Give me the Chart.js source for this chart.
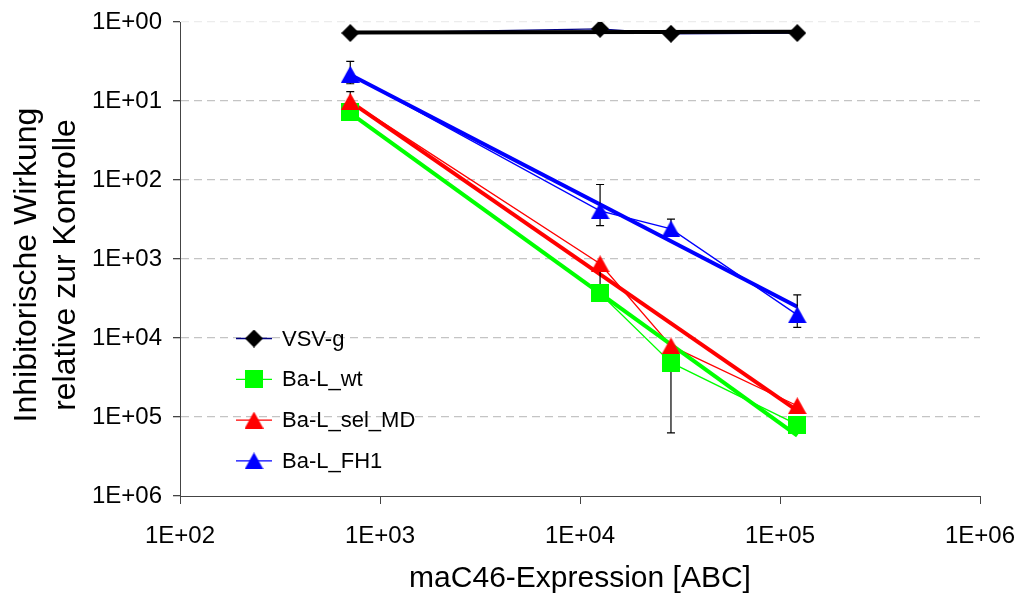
<!DOCTYPE html>
<html>
<head>
<meta charset="utf-8">
<title>Inhibitorische Wirkung vs. maC46-Expression</title>
<script src="https://cdn.jsdelivr.net/npm/chart.js@4.4.1/dist/chart.umd.min.js"></script>
<style>
  html, body { margin: 0; padding: 0; background: #fff; }
  #chart { display: block; }
</style>
</head>
<body>
<canvas id="chart" width="1018" height="594"></canvas>
<script>
// maC46-Expression der Zielzellen [ABC]
const expression = [710, 12600, 28500, 122000];

// inhibitorische Wirkung relativ zur Kontrolle
const vsvG     = [1.38, 1.22, 1.41, 1.38];
const baLWt    = [13.9, 2730, 20500, 124700];
const baLSelMD = [10.1, 1150, 12600, 72100];
const baLFH1   = [4.6, 246, 416, 5100];

// Fehlerbalken (+/-), 0 = keiner
const errVsvG     = [0, 0, 0, 0];
const errBaLWt    = [0, 0, 138000, 0];
const errBaLSelMD = [2.5, 1500, 0, 0];
const errBaLFH1   = [1.45, 132, 103, 2250];

// Potenz-Trendlinien: Wert am ersten und letzten Messpunkt
const trendVsvG     = [1.36, 1.33];
const trendBaLWt    = [14.2, 171700];
const trendBaLSelMD = [10.2, 82800];
const trendBaLFH1   = [4.66, 4030];

const seriesNames = ['VSV-g', 'Ba-L_wt', 'Ba-L_sel_MD', 'Ba-L_FH1'];
const yTitleLines = ['Inhibitorische Wirkung', 'relative zur Kontrolle'];

const xTicks = [1e2, 1e3, 1e4, 1e5, 1e6];
const xTickLabels = ['1E+02', '1E+03', '1E+04', '1E+05', '1E+06'];
const yTicks = [1, 1e1, 1e2, 1e3, 1e4, 1e5, 1e6];
const yTickLabels = ['1E+00', '1E+01', '1E+02', '1E+03', '1E+04', '1E+05', '1E+06'];

const FONT = "'Liberation Sans', Arial, Helvetica, sans-serif";
const AXIS = '#444444';

// Marker als kleine Canvas-Grafik, damit die Form mittig auf dem Punkt sitzt
function makeMarker(shape, color) {
  const c = document.createElement('canvas');
  if (shape === 'triangle') { c.width = 19; c.height = 17; }
  else { c.width = 18; c.height = 18; }
  const g = c.getContext('2d');
  g.fillStyle = color;
  g.beginPath();
  if (shape === 'diamond') {
    g.moveTo(9, 0); g.lineTo(18, 9); g.lineTo(9, 18); g.lineTo(0, 9);
  } else if (shape === 'square') {
    g.rect(0, 0, 18, 18);
  } else {
    g.moveTo(9.5, 0); g.lineTo(19, 17); g.lineTo(0, 17);
  }
  g.closePath();
  g.fill();
  return c;
}

const series = [
  { name: seriesNames[0], values: vsvG, errors: errVsvG, trend: trendVsvG,
    line: '#000080', trendColor: '#000000', marker: makeMarker('diamond', '#000000') },
  { name: seriesNames[1], values: baLWt, errors: errBaLWt, trend: trendBaLWt,
    line: '#00ff00', trendColor: '#00ff00', marker: makeMarker('square', '#00ff00') },
  { name: seriesNames[2], values: baLSelMD, errors: errBaLSelMD, trend: trendBaLSelMD,
    line: '#ff0000', trendColor: '#ff0000', marker: makeMarker('triangle', '#ff0000') },
  { name: seriesNames[3], values: baLFH1, errors: errBaLFH1, trend: trendBaLFH1,
    line: '#0000ff', trendColor: '#0000ff', marker: makeMarker('triangle', '#0000ff') }
];

const trendX = [expression[0], expression[expression.length - 1]];

// drei Ebenen: duenne Verbindungslinien, Trendlinien, Marker (oben)
const datasets = [];
series.forEach((s, k) => {
  const pts = expression.map((x, i) => ({ x: x, y: s.values[i] }));
  datasets.push({
    label: s.name, role: 'line', data: pts, showLine: true,
    borderColor: s.line, borderWidth: 1.3, pointRadius: 0, order: 30 - k
  });
  datasets.push({
    label: s.name + ' Trend', role: 'trend',
    data: trendX.map((x, i) => ({ x: x, y: s.trend[i] })), showLine: true,
    borderColor: s.trendColor, borderWidth: 4, pointRadius: 0, order: 20 - k
  });
  datasets.push({
    label: s.name, role: 'markers', data: pts, showLine: false,
    pointStyle: s.marker, pointRadius: 9, pointHoverRadius: 9,
    backgroundColor: s.trendColor, borderColor: s.trendColor, order: 10 - k
  });
});

// Fehlerbalken zwischen Linien und Markern zeichnen
let errorBarsPending = true;
const errorBars = {
  id: 'errorBars',
  beforeDatasetsDraw() { errorBarsPending = true; },
  beforeDatasetDraw(chart, args) {
    if (!errorBarsPending || chart.data.datasets[args.index].role !== 'markers') return;
    errorBarsPending = false;
    const { ctx, scales: { x, y } } = chart;
    ctx.save();
    ctx.strokeStyle = '#000';
    ctx.lineWidth = 1.2;
    const cap = 4;
    series.forEach(s => {
      s.values.forEach((v, i) => {
        const e = s.errors[i];
        if (!e) return;
        const px = x.getPixelForValue(expression[i]);
        const lowOk = v - e > 0;
        const yTop = lowOk ? y.getPixelForValue(v - e) : y.getPixelForValue(v);
        const yBot = y.getPixelForValue(v + e);
        ctx.beginPath();
        ctx.moveTo(px, yTop); ctx.lineTo(px, yBot);
        ctx.moveTo(px - cap, yBot); ctx.lineTo(px + cap, yBot);
        if (lowOk) { ctx.moveTo(px - cap, yTop); ctx.lineTo(px + cap, yTop); }
        ctx.stroke();
      });
    });
    ctx.restore();
  }
};

// Legende innerhalb der Zeichenflaeche, dazu der zweizeilige y-Titel
const insideLegend = {
  id: 'insideLegend',
  afterDraw(chart) {
    const ctx = chart.ctx;
    ctx.save();
    ctx.font = '22px ' + FONT;
    ctx.fillStyle = '#000';
    ctx.textBaseline = 'middle';
    ctx.textAlign = 'left';
    series.forEach((s, k) => {
      const yy = 338.5 + k * 40.8;
      ctx.strokeStyle = s.line;
      ctx.lineWidth = 1.3;
      ctx.beginPath();
      ctx.moveTo(236, yy); ctx.lineTo(272, yy);
      ctx.stroke();
      const m = s.marker;
      ctx.drawImage(m, 254 - m.width / 2, yy - m.height / 2);
      ctx.fillText(s.name, 282, yy + 1);
    });

    // y-Achsentitel, etwas unterhalb der Mitte der Zeichenflaeche
    ctx.font = '32px ' + FONT;
    ctx.textAlign = 'center';
    ctx.translate(0, 265);
    ctx.rotate(-Math.PI / 2);
    yTitleLines.forEach((t, i) => ctx.fillText(t, 0, 27.5 + i * 39));
    ctx.restore();
  }
};

new Chart(document.getElementById('chart'), {
  type: 'scatter',
  data: { datasets: datasets },
  plugins: [errorBars, insideLegend],
  options: {
    responsive: false,
    devicePixelRatio: 1,
    animation: false,
    layout: { padding: { top: 22, right: 38, bottom: 0, left: 0 } },
    plugins: { legend: { display: false }, tooltip: { enabled: false } },
    scales: {
      x: {
        type: 'logarithmic',
        min: 1e2,
        max: 1e6,
        afterBuildTicks: s => { s.ticks = xTicks.map(v => ({ value: v })); },
        afterFit: s => { s.height = 98; s.paddingLeft = 0; s.paddingRight = 0; },
        border: { display: true, color: AXIS, width: 1 },
        grid: { drawOnChartArea: false, drawTicks: true, tickLength: 8, tickColor: AXIS },
        ticks: {
          autoSkip: false, maxRotation: 0, padding: 18, color: '#000',
          font: { family: FONT, size: 24 },
          callback: (v, i) => xTickLabels[i]
        },
        title: {
          display: true, text: 'maC46-Expression [ABC]', color: '#000',
          font: { family: FONT, size: 30, lineHeight: 1 },
          padding: { top: 0, bottom: 0 }
        }
      },
      y: {
        type: 'logarithmic',
        reverse: true,
        min: 1,
        max: 1e6,
        afterBuildTicks: s => { s.ticks = yTicks.map(v => ({ value: v })); },
        afterFit: s => { s.width = 180; s.paddingTop = 0; s.paddingBottom = 0; },
        // border.dash gilt in v4 fuer die Gitterlinien, die Achse bleibt durchgezogen
        border: { display: true, color: AXIS, width: 1, dash: [8, 5] },
        grid: {
          drawOnChartArea: true, drawTicks: true, tickLength: 7,
          tickColor: AXIS, tickBorderDash: [],
          color: ctx => {
            const v = ctx.tick ? ctx.tick.value : 0;
            if (v === 1e6) return 'rgba(0,0,0,0)';
            if (v === 1) return '#ececec';
            return '#c4c4c4';
          },
          lineWidth: 1.3
        },
        ticks: {
          autoSkip: false, padding: 11, color: '#000',
          font: { family: FONT, size: 24 },
          callback: (v, i) => yTickLabels[i]
        },
        title: { display: false }
      }
    }
  }
});
</script>
</body>
</html>
